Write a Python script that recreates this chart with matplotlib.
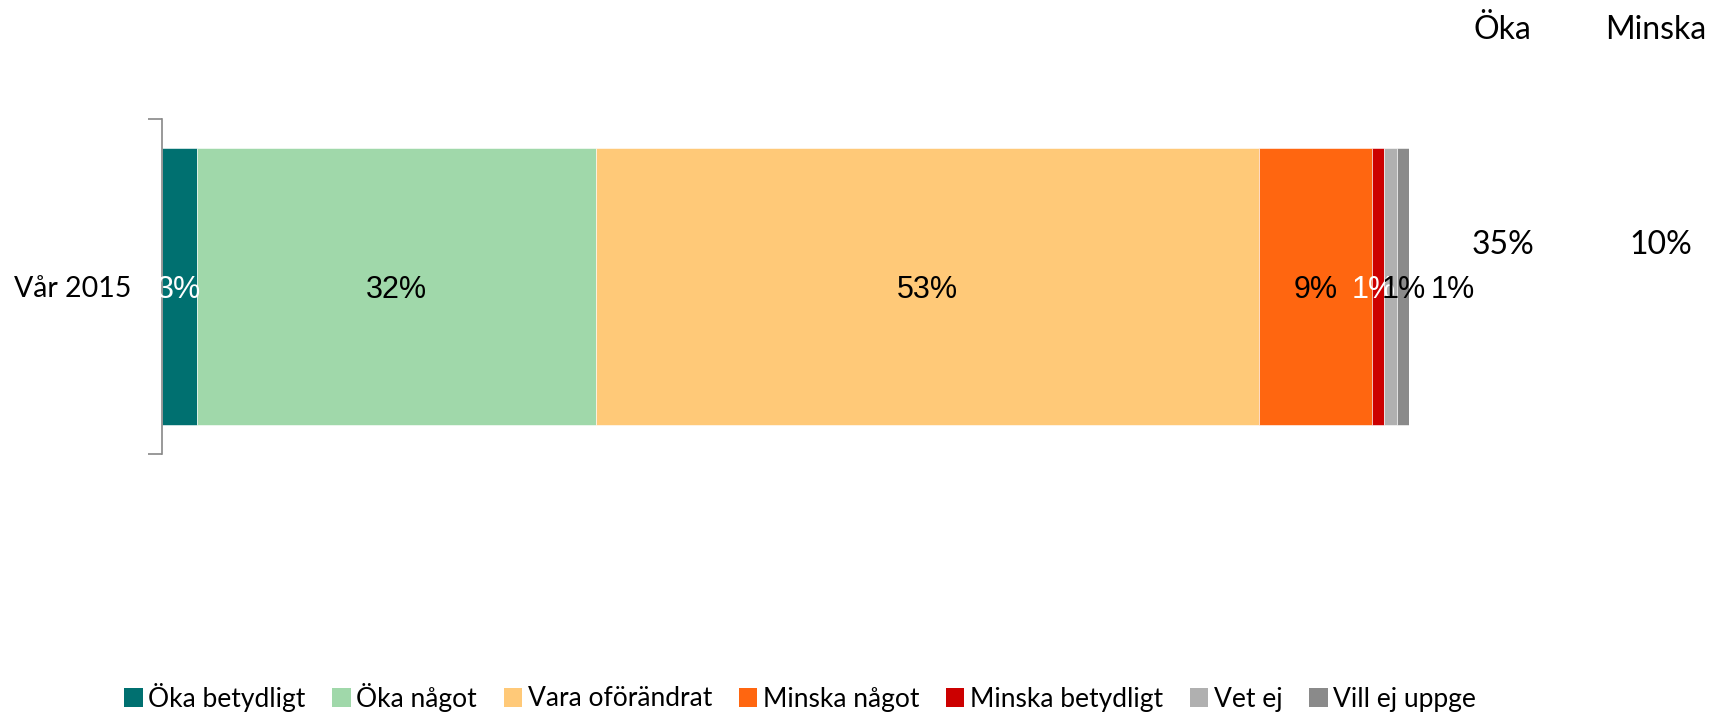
import matplotlib
matplotlib.use('Agg')
import matplotlib.pyplot as plt
from matplotlib.patches import Patch

category = 'Vår 2015'
series = ['Öka betydligt', 'Öka något', 'Vara oförändrat', 'Minska något',
          'Minska betydligt', 'Vet ej', 'Vill ej uppge']
values = [2.8, 32.0, 53.1, 9.0, 1.0, 1.0, 1.0]
labels = ['3%', '32%', '53%', '9%', '1%', '1%', '1%']
colors = ['#007070', '#A0D8AA', '#FFC978', '#FF6610', '#CC0000', '#B0B0B0', '#8A8A8A']
label_colors = ['white', 'black', 'black', 'black', 'white', 'black', 'black']
# shift of some labels (in %) as in the original, where they collide
label_shift = [0, 0, 0, 0, -0.35, 1.1, 4.0]

summary_heads = ['Öka', 'Minska']
summary_vals = ['35%', '10%']

fig = plt.figure(figsize=(17.19, 7.12), dpi=100)
ax = fig.add_axes([161.7 / 1719, 0.3624, (1409 - 161.7) / 1719, 0.4705])

left = 0
for v, lab, c, lc, sh in zip(values, labels, colors, label_colors, label_shift):
    ax.barh(0, v, left=left, height=0.827, color=c, edgecolor='white', linewidth=0.4)
    ax.text(left + v / 2 + sh, -0.01, lab, ha='center', va='center',
            color=lc, fontsize=22, family='Liberation Sans')
    left += v

ax.set_xlim(0, sum(values))
ax.set_ylim(-0.5, 0.5)
ax.set_xticks([])
for s in ['top', 'right', 'bottom']:
    ax.spines[s].set_visible(False)
ax.spines['left'].set_color('#888888')
ax.spines['left'].set_linewidth(1.2)
ax.set_yticks([-0.5, 0.5])
ax.set_yticklabels(['', ''])
ax.tick_params(axis='y', which='major', length=10, width=1.2, color='#888888')
ax.set_yticks([0], minor=True)
ax.set_yticklabels([category], minor=True, fontsize=20.5, family='Lato')
ax.tick_params(axis='y', which='minor', length=0, pad=22)

# summary columns
for i, (h, v) in enumerate(zip(summary_heads, summary_vals)):
    x = [1502, 1656][i] / 1719
    fig.text(x, 1 - 30 / 712, h, ha='center', va='center', fontsize=23, family='Lato')
    fig.text(x + (0.0005 if i == 0 else 0.003), 1 - 245 / 712, v, ha='center', va='center',
             fontsize=23, family='Lato')

handles = [Patch(facecolor=c, edgecolor='none') for c in colors]
fig.legend(handles, series, loc='center', bbox_to_anchor=(800 / 1719, 1 - 697 / 712),
           ncol=7, frameon=False, handlelength=0.7, handleheight=0.7, handletextpad=0.2,
           columnspacing=1.02, prop={'family': 'Lato', 'size': 19})

fig.savefig('out.png', dpi=100)
